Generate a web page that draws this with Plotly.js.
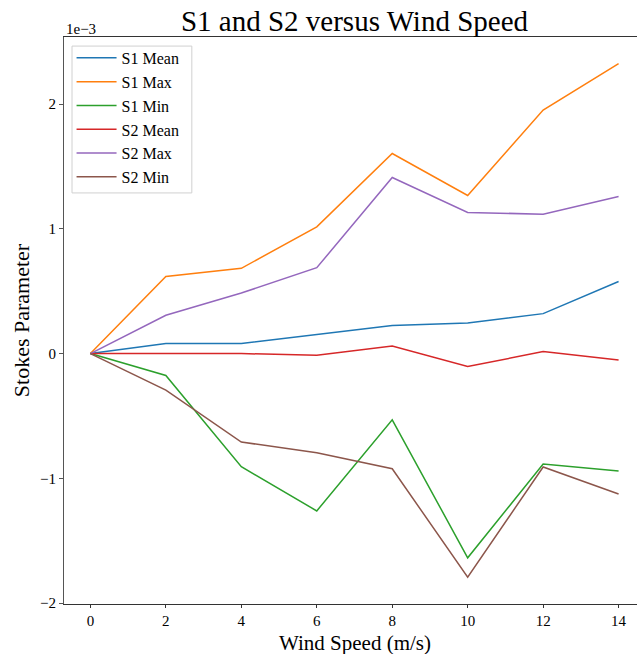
<!DOCTYPE html>
<html>
<head>
<meta charset="utf-8">
<script src="https://cdn.plot.ly/plotly-3.0.1.min.js"></script>
<style>
html,body{margin:0;padding:0;overflow:hidden;background:#fff;}
#chart{width:662px;height:654px;}
</style>
</head>
<body>
<div id="chart"></div>
<script>
// Wind speed (m/s)
const windSpeed = [0, 2, 4, 6, 8, 10, 12, 14];
// Stokes parameters, in units of 1e-3
const s1Mean = [0, 0.08, 0.08, 0.152, 0.224, 0.245, 0.32, 0.578];
const s1Max  = [0, 0.618, 0.683, 1.016, 1.603, 1.267, 1.952, 2.323];
const s1Min  = [0, -0.176, -0.907, -1.261, -0.531, -1.637, -0.885, -0.941];
const s2Mean = [0, -0.003, 0, -0.013, 0.061, -0.104, 0.016, -0.051];
const s2Max  = [0, 0.307, 0.485, 0.688, 1.411, 1.131, 1.117, 1.259];
const s2Min  = [0, -0.293, -0.709, -0.795, -0.923, -1.792, -0.909, -1.125];

const seriesNames = ['S1 Mean', 'S1 Max', 'S1 Min', 'S2 Mean', 'S2 Max', 'S2 Min'];
const seriesData = [s1Mean, s1Max, s1Min, s2Mean, s2Max, s2Min];
const colors = ['#1f77b4', '#ff7f0e', '#2ca02c', '#d62728', '#9467bd', '#8c564b'];

const yTickVals = [-2, -1, 0, 1, 2];
const yTickText = ['\u22122', '\u22121', '0', '1', '2'];
const xTickVals = [0, 2, 4, 6, 8, 10, 12, 14];

const font = '"Liberation Serif", "Times New Roman", serif';

const traces = seriesData.map((d, i) => ({
  x: windSpeed, y: d, type: 'scatter', mode: 'lines', name: seriesNames[i],
  line: {color: colors[i], width: 1.5}
}));

const layout = {
  width: 662, height: 654,
  margin: {l: 64, r: 17, t: 37, b: 50},
  paper_bgcolor: '#fff', plot_bgcolor: '#fff',
  font: {family: font, color: '#000', size: 15},
  title: {text: 'S1 and S2 versus Wind Speed', font: {family: font, size: 29, color: '#000'},
          x: 0.5, xref: 'paper', y: 1, yref: 'paper', yanchor: 'bottom', pad: {b: 6}},
  showlegend: true,
  legend: {x: 0.013, y: 0.993, xanchor: 'left', yanchor: 'top', bgcolor: 'rgba(0,0,0,0)',
           borderwidth: 0, font: {family: font, size: 16, color: '#000'},
           tracegroupgap: 0, itemwidth: 40},
  shapes: [{type: 'rect', xref: 'paper', yref: 'paper', x0: 0.0138, x1: 0.220, y0: 0.725, y1: 0.984,
            line: {color: '#d0d0d0', width: 1}, fillcolor: 'rgba(255,255,255,0.8)', layer: 'above'}],
  xaxis: {range: [-0.7, 14.7], tickvals: xTickVals, ticks: 'outside', ticklen: 3, tickwidth: 1,
          tickcolor: '#333', showline: true, linecolor: '#333', linewidth: 1, mirror: true,
          showgrid: false, zeroline: false, tickfont: {family: font, size: 15, color: '#000'}},
  yaxis: {range: [-2.007, 2.537], tickvals: yTickVals, ticktext: yTickText, ticks: 'outside', ticklen: 4,
          tickwidth: 1, tickcolor: '#555', showline: true, linecolor: '#555', linewidth: 1, mirror: true,
          showgrid: false, zeroline: false, tickfont: {family: font, size: 15, color: '#000'},
          title: {text: 'Stokes Parameter', font: {family: font, size: 22, color: '#000'}, standoff: 4}},
  annotations: [
    {text: '1e\u22123', xref: 'paper', yref: 'paper', x: 0, y: 1, xanchor: 'left', yanchor: 'bottom',
     showarrow: false, font: {family: font, size: 15, color: '#000'}, yshift: -2},
    {text: 'Wind Speed (m/s)', xref: 'paper', yref: 'paper', x: (354.5 - 64) / 581, y: -0.0864,
     xanchor: 'center', yanchor: 'bottom', showarrow: false, yshift: -3, borderpad: 0,
     font: {family: font, size: 21, color: '#000'}}
  ]
};

Plotly.newPlot('chart', traces, layout, {displayModeBar: false, staticPlot: true});
</script>
</body>
</html>
